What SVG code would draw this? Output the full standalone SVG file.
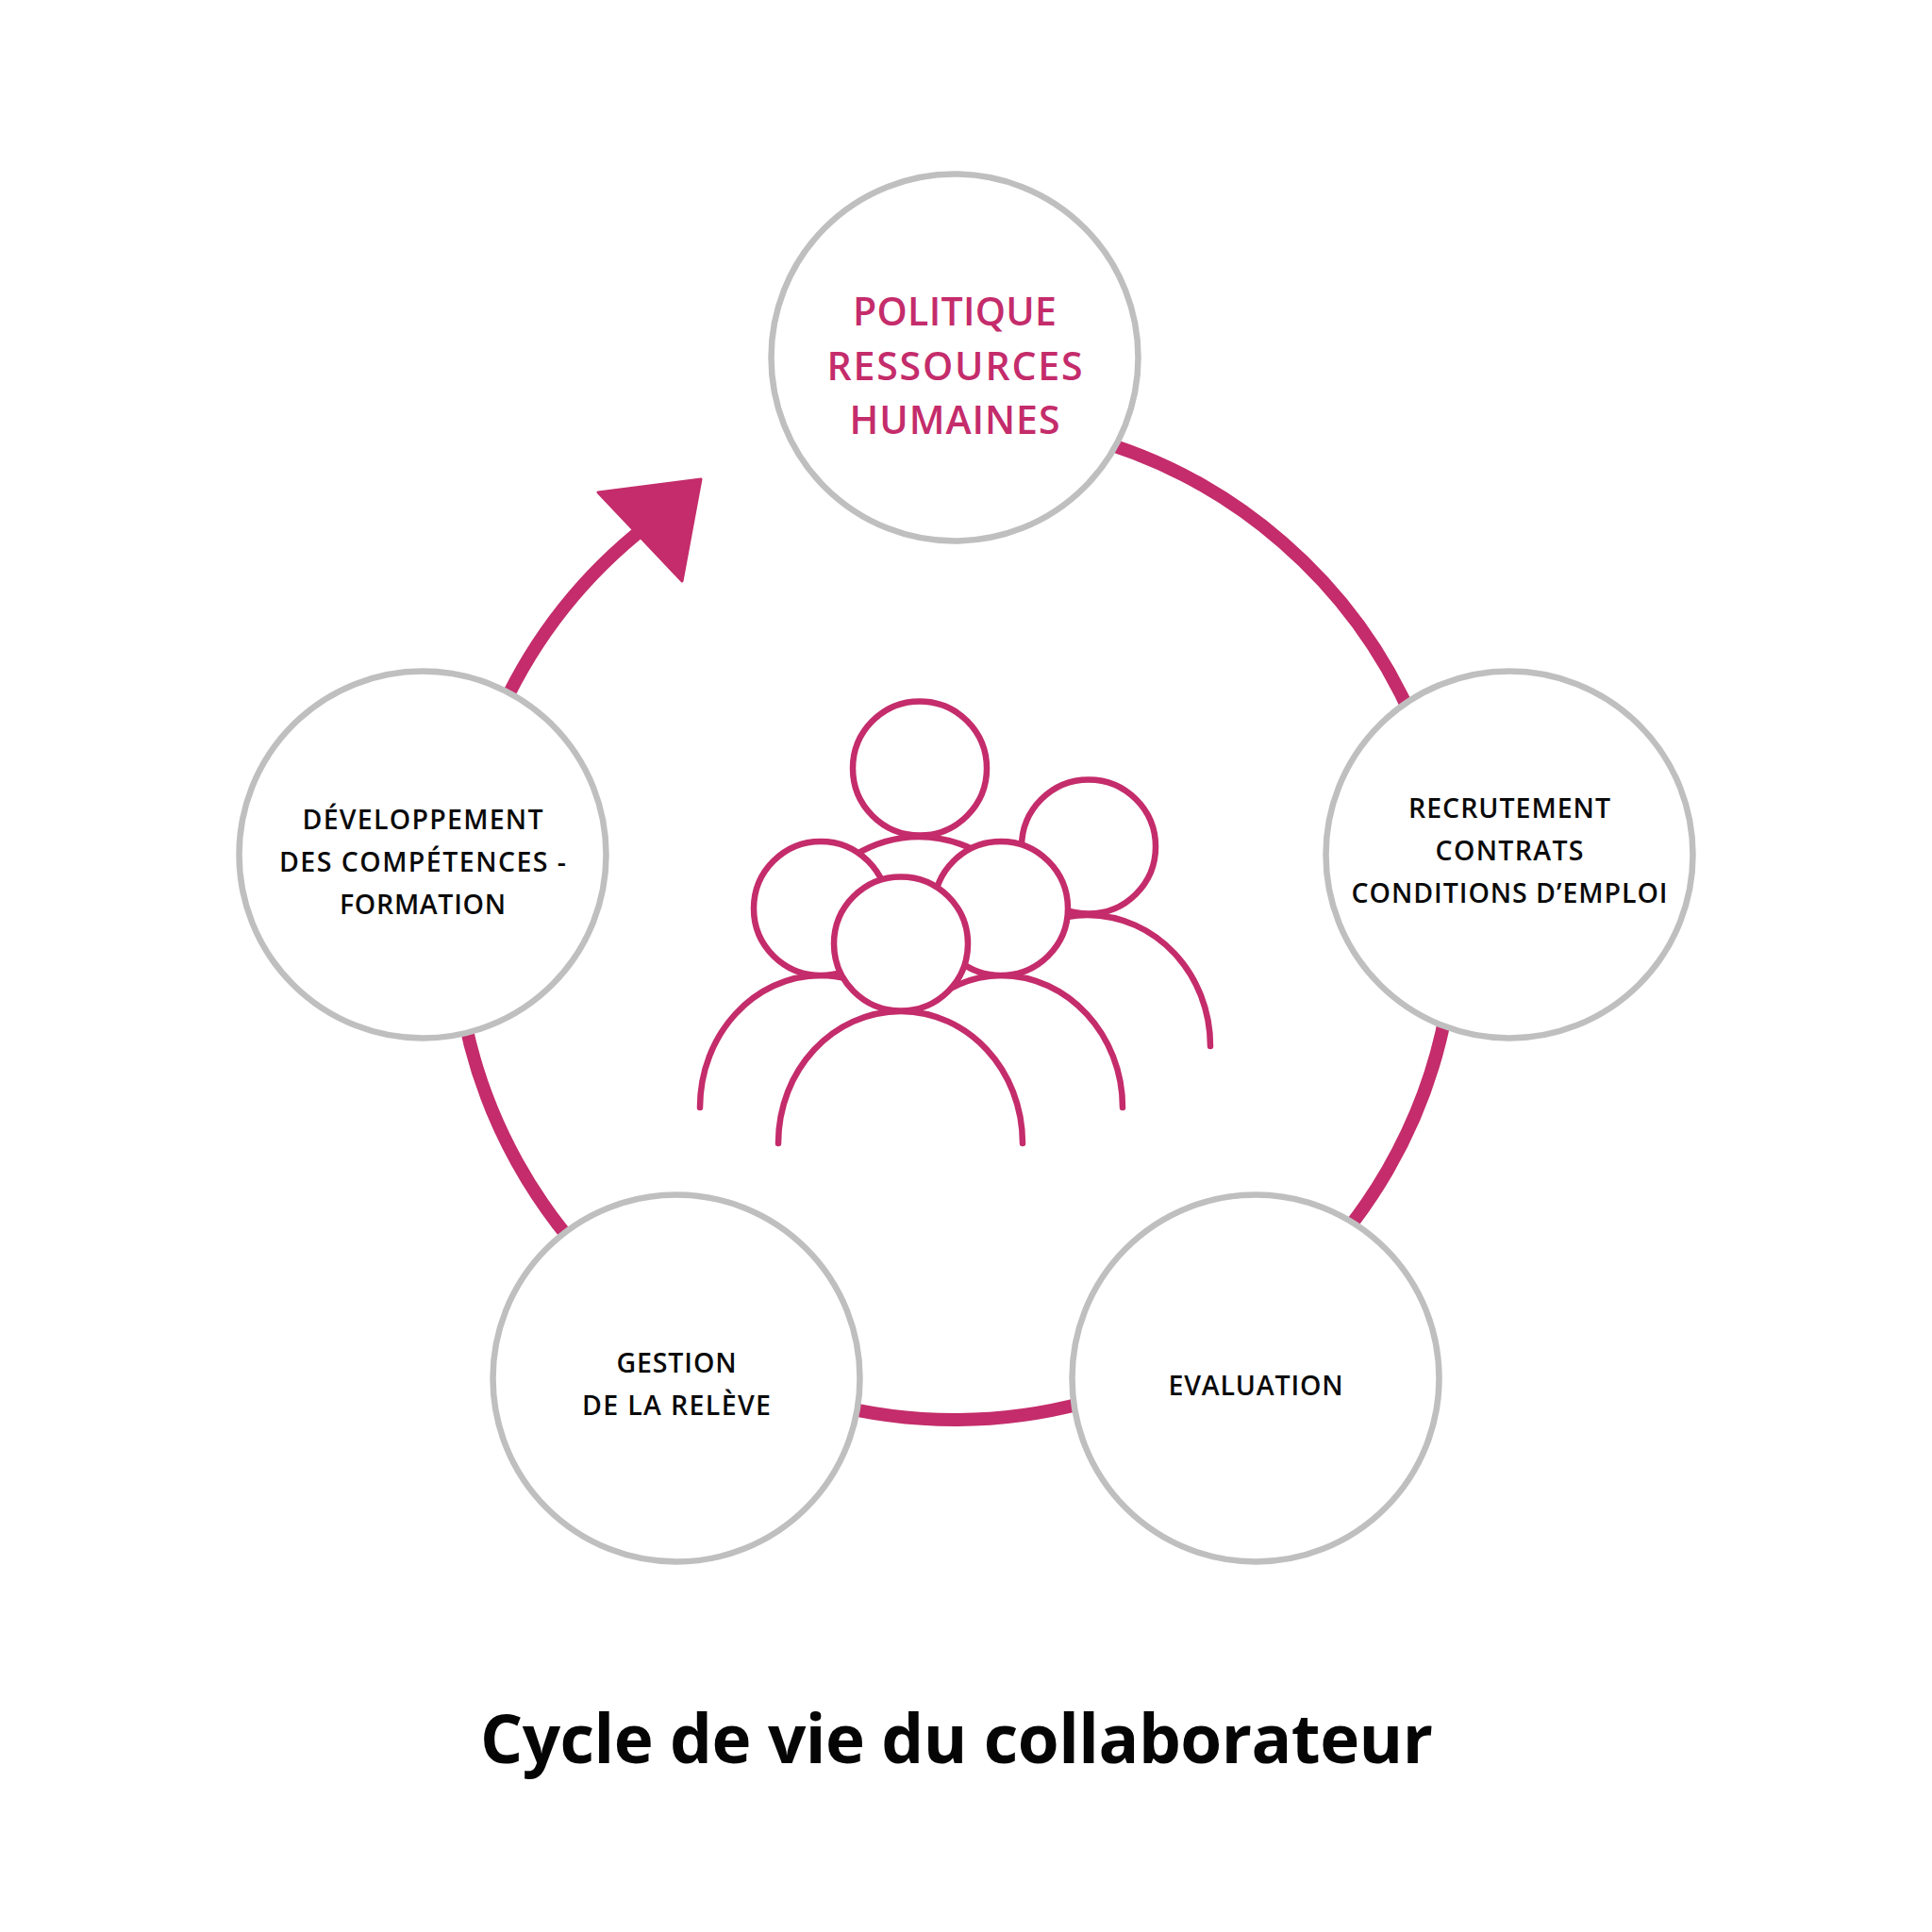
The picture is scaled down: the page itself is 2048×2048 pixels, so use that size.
<svg xmlns="http://www.w3.org/2000/svg" width="2048" height="2048" viewBox="0 0 2048 2048">
<style>
text{font-family:"Open Sans","Noto Sans","Liberation Sans",sans-serif;text-anchor:middle}
.n{fill:#fff;stroke:#bfbfbf;stroke-width:6.5}
.c{fill:none;stroke:#c42c6b;stroke-width:14}
.l{font-size:28.5px;font-weight:600;fill:#0a0a0a}
.h{font-size:41px;font-weight:600;fill:#c42c6b}
.p{fill:none;stroke:#c42c6b;stroke-width:6.500;stroke-linecap:round}
.f{fill:#fff;stroke:#c42c6b;stroke-width:6.500}
</style>
<rect width="2048" height="2048" fill="#fff"/>
<g id="connectors">
<path class="c" d="M1149 463A530 530 0 0 1 1500 768"/>
<path class="c" d="M1534 1067A530 530 0 0 1 1353 1381"/>
<path class="c" d="M1149 1487A530 530 0 0 1 875 1487"/>
<path class="c" d="M671 1381A530 530 0 0 1 487 1049"/>
<path class="c" d="M532 751A530 530 0 0 1 686 557"/>
<polygon points="743,508 634,522 723,616" fill="#c42c6b" stroke="#c42c6b" stroke-width="3" stroke-linejoin="round"/>
</g>
<g id="people">
<path class="p" d="M1131 972Q1142 970 1153 970C1225 970 1283 1032 1283 1109"/>
<circle class="f" cx="1154" cy="897.500" r="71"/>
<path class="p" d="M905 907Q938 887 974 887Q1005 887 1035 902"/>
<circle class="f" cx="975" cy="814.500" r="71"/>
<path class="p" d="M742 1174C742 1097 799 1034 870 1034Q885 1034 900 1038"/>
<circle class="f" cx="870" cy="963" r="71"/>
<path class="p" d="M1190 1174C1190 1097 1132 1034 1061 1034Q1030 1034 1000 1052"/>
<circle class="f" cx="1061" cy="963" r="71"/>
<path class="p" d="M825 1212C825 1134 883 1072 955 1072C1026 1072 1084 1134 1084 1212"/>
<circle class="f" cx="955" cy="1000.500" r="71"/>
</g>
<g id="node-politique">
<circle class="n" cx="1012" cy="379" r="194.500"/>
<text class="h" x="1012" y="345" textLength="216">POLITIQUE</text>
<text class="h" x="1012" y="403" textLength="271">RESSOURCES</text>
<text class="h" x="1012" y="460" textLength="223">HUMAINES</text>
</g>
<g id="node-recrutement">
<circle class="n" cx="1600" cy="906" r="194.500"/>
<text class="l" x="1600" y="867" textLength="214">RECRUTEMENT</text>
<text class="l" x="1600" y="912" textLength="157">CONTRATS</text>
<text class="l" x="1600" y="957" textLength="335">CONDITIONS D’EMPLOI</text>
</g>
<g id="node-evaluation">
<circle class="n" cx="1331" cy="1461" r="194.500"/>
<text class="l" x="1331" y="1479" textLength="185">EVALUATION</text>
</g>
<g id="node-releve">
<circle class="n" cx="717" cy="1461" r="194.500"/>
<text class="l" x="717" y="1455" textLength="127">GESTION</text>
<text class="l" x="717" y="1500" textLength="200">DE LA RELÈVE</text>
</g>
<g id="node-developpement">
<circle class="n" cx="448" cy="906" r="194.500"/>
<text class="l" x="448" y="879" textLength="255">DÉVELOPPEMENT</text>
<text class="l" x="448" y="924" textLength="304">DES COMPÉTENCES -</text>
<text class="l" x="448" y="969" textLength="176">FORMATION</text>
</g>
<text x="1014" y="1869" font-size="71" font-weight="700" fill="#050505" textLength="1010">Cycle de vie du collaborateur</text>
</svg>
